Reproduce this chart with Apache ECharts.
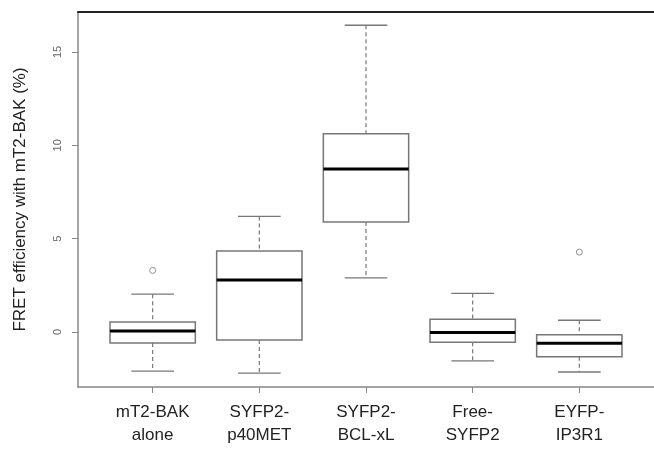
<!DOCTYPE html>
<html>
<head>
<meta charset="utf-8">
<script src="https://cdn.jsdelivr.net/npm/echarts@6/dist/echarts.min.js"></script>
<style>
  html, body { margin: 0; padding: 0; background: #fff; }
  #main { width: 654px; height: 450px; }
</style>
</head>
<body>
<div id="main"></div>
<script>
// groups on the x axis (R boxplot, positions 1..5)
var categories = ["mT2-BAK\nalone", "SYFP2-\np40MET", "SYFP2-\nBCL-xL", "Free-\nSYFP2", "EYFP-\nIP3R1"];
// five-number summaries
var lowWhisker  = [-2.09, -2.20, 2.90, -1.55, -2.14];
var lowerQuart  = [-0.59, -0.43, 5.89, -0.55, -1.32];
var medians     = [0.05, 2.78, 8.73, -0.02, -0.60];
var upperQuart  = [0.54, 4.34, 10.62, 0.68, -0.14];
var highWhisker = [2.03, 6.19, 16.43, 2.07, 0.63];
// outliers: [group position, value]
var outliers = [[1, 3.30], [5, 4.28]];
var yTicks = [0, 5, 10, 15];

var chart = echarts.init(document.getElementById("main"));

var boxData = categories.map(function (c, i) {
  return [i + 1, lowWhisker[i], lowerQuart[i], medians[i], upperQuart[i], highWhisker[i]];
});

var grey = "#777";

function renderBox(params, api) {
  var x = api.value(0);
  var half = api.size([0.4, 0])[0];
  var capHalf = api.size([0.2, 0])[0];
  var pLow = api.coord([x, api.value(1)]);
  var pQ1 = api.coord([x, api.value(2)]);
  var pMed = api.coord([x, api.value(3)]);
  var pQ3 = api.coord([x, api.value(4)]);
  var pHigh = api.coord([x, api.value(5)]);
  var cx = pMed[0];
  var dash = { stroke: grey, lineWidth: 1.2, lineDash: [4, 3] };
  var solid = { stroke: grey, lineWidth: 1.3 };
  return {
    type: "group",
    children: [
      { type: "line", shape: { x1: cx, y1: pHigh[1], x2: cx, y2: pQ3[1] }, style: dash },
      { type: "line", shape: { x1: cx, y1: pQ1[1], x2: cx, y2: pLow[1] }, style: dash },
      { type: "line", shape: { x1: cx - capHalf, y1: pHigh[1], x2: cx + capHalf, y2: pHigh[1] }, style: solid },
      { type: "line", shape: { x1: cx - capHalf, y1: pLow[1], x2: cx + capHalf, y2: pLow[1] }, style: solid },
      {
        type: "rect",
        shape: { x: cx - half, y: pQ3[1], width: 2 * half, height: pQ1[1] - pQ3[1] },
        style: { fill: "#fff", stroke: grey, lineWidth: 1.5 }
      },
      { type: "line", shape: { x1: cx - half, y1: pMed[1], x2: cx + half, y2: pMed[1] }, style: { stroke: "#000", lineWidth: 3 } }
    ]
  };
}

var option = {
  animation: false,
  backgroundColor: "#fff",
  textStyle: { fontFamily: "Liberation Sans, Arial, sans-serif" },
  grid: { left: 78, right: -2, top: 12, bottom: 63 },
  xAxis: [
    {
      type: "value",
      min: 0.3,
      max: 5.7,
      axisLine: { onZero: false, lineStyle: { color: "#888", width: 1.5 } },
      axisTick: { customValues: [1, 2, 3, 4, 5], length: 6, lineStyle: { color: "#888" } },
      axisLabel: {
        customValues: [1, 2, 3, 4, 5],
        formatter: function (v) { return categories[Math.round(v) - 1]; },
        fontSize: 17,
        lineHeight: 23,
        color: "#222",
        margin: 14
      },
      splitLine: { show: false }
    },
    {
      type: "value",
      position: "top",
      min: 0.3,
      max: 5.7,
      axisLine: { show: true, onZero: false, lineStyle: { color: "#222", width: 2 } },
      axisTick: { show: false },
      axisLabel: { show: false },
      splitLine: { show: false }
    }
  ],
  yAxis: {
    type: "value",
    min: -2.944,
    max: 17.14,
    name: "FRET efficiency with mT2-BAK (%)",
    nameLocation: "middle",
    nameGap: 49,
    nameTextStyle: { fontSize: 17, color: "#222" },
    axisLine: { show: true, onZero: false, lineStyle: { color: "#888", width: 1.5 } },
    axisTick: { show: true, customValues: yTicks, length: 6, lineStyle: { color: "#888" } },
    axisLabel: { customValues: yTicks, rotate: 90, fontSize: 11, color: "#666", margin: 15 },
    splitLine: { show: false }
  },
  series: [
    {
      type: "custom",
      renderItem: renderBox,
      encode: { x: 0, y: [1, 2, 3, 4, 5] },
      data: boxData
    },
    {
      type: "scatter",
      symbol: "circle",
      symbolSize: 6,
      itemStyle: { color: "#fff", borderColor: grey, borderWidth: 1 },
      data: outliers
    }
  ]
};

chart.setOption(option);
</script>
</body>
</html>
